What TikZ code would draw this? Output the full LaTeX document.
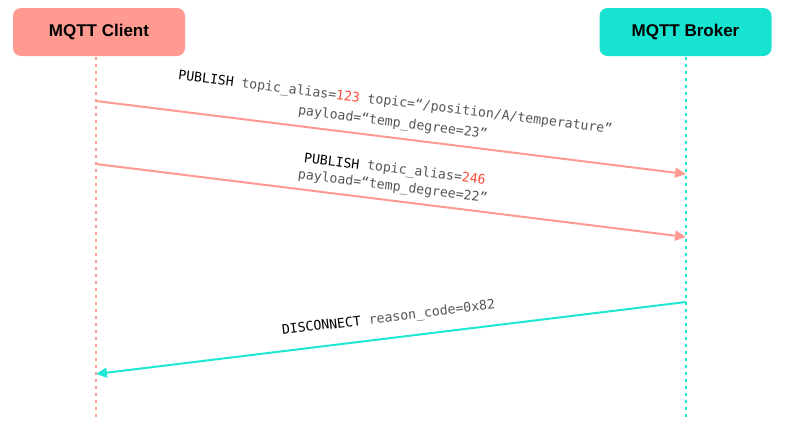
\documentclass[tikz,border=0pt]{standalone}
\usepackage{fontspec}
\setmainfont{Liberation Sans}
\newfontfamily\monof{DejaVu Sans Mono}
\usetikzlibrary{arrows.meta}
\definecolor{cfill}{HTML}{FF9A90}
\definecolor{bfill}{HTML}{17E3D0}
\definecolor{carrow}{HTML}{FF9A90}
\definecolor{barrow}{HTML}{1EE8D4}
\definecolor{numred}{HTML}{FF4A38}
\definecolor{txtgray}{HTML}{555555}
\begin{document}
\begin{tikzpicture}[x=1pt,y=-1pt,
  actor/.style={rounded corners=8pt, minimum width=172pt, minimum height=48pt,
    font=\fontsize{17}{20}\selectfont\bfseries, text=black, inner sep=0pt},
  life/.style={line width=2pt, dash pattern=on 3pt off 4pt},
  msg/.style={line width=2pt, -{Triangle[length=11pt,width=10pt]}},
  lbl/.style={font=\monof\fontsize{13.2}{20}\selectfont, text=txtgray, align=center, sloped, inner sep=0pt},
  tight/.style={font=\monof\fontsize{13.2}{17}\selectfont}]
\useasboundingbox (0,0) rectangle (802,421);
\node[actor, fill=cfill] (client) at (99,32) {MQTT Client};
\node[actor, fill=bfill] (broker) at (685.5,32) {MQTT Broker};
\coordinate (ctop) at (96,57);
\coordinate (cbot) at (96,421);
\coordinate (btop) at (686,57);
\coordinate (bbot) at (686,421);
\draw[life, carrow] (ctop) -- (cbot);
\draw[life, barrow] (btop) -- (bbot);
\coordinate (c1) at (96,101);
\coordinate (b1) at (686,174);
\coordinate (c2) at (96,164);
\coordinate (b2) at (686,237);
\coordinate (c3) at (96,374);
\coordinate (b3) at (686,302);
\draw[msg, carrow] (c1) -- (b1);
\draw[msg, carrow] (c2) -- (b2);
\draw[msg, barrow] (b3) -- (c3);
\path (c1) -- (b1) node[lbl, midway, above=8pt]
  {{\color{black}PUBLISH} topic\_alias={\color{numred}123} topic=“/position/A/temperature”\\
   payload=“temp\_degree=23”};
\path (c2) -- (b2) node[lbl, tight, midway, above=7pt]
  {{\color{black}PUBLISH} topic\_alias={\color{numred}246}\\
   payload=“temp\_degree=22”};
\path (c3) -- (b3) node[lbl, midway, above=13pt]
  {{\color{black}DISCONNECT} reason\_code=0x82};
\end{tikzpicture}
\end{document}
